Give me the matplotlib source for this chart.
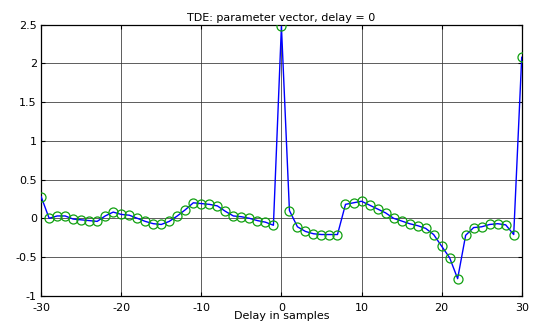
import numpy as np
import matplotlib
matplotlib.use("Agg")
import matplotlib.pyplot as plt

plt.rcParams['font.family'] = ['DejaVu Sans']
plt.rcParams['axes.unicode_minus'] = False

delays = list(range(-30, 31))
values = [
    0.28, 0.00, 0.03, 0.03, -0.01, -0.02, -0.03, -0.04, 0.03, 0.08,   # -30..-21
    0.05, 0.04, 0.00, -0.04, -0.07, -0.08, -0.04, 0.03, 0.11, 0.20,   # -20..-11
    0.19, 0.18, 0.16, 0.09, 0.03, 0.02, 0.00, -0.03, -0.05, -0.09,    # -10..-1
    2.48,                                                              # 0
    0.10, -0.11, -0.17, -0.20, -0.21, -0.21, -0.21, 0.18, 0.20, 0.22, # 1..10
    0.17, 0.12, 0.07, 0.00, -0.035, -0.07, -0.095, -0.13, -0.21, -0.36, # 11..20
    -0.51, -0.78, -0.22, -0.12, -0.11, -0.08, -0.07, -0.085, -0.21, 2.08, # 21..30
]
xticks = [-30, -20, -10, 0, 10, 20, 30]
yticks = [-1, -0.5, 0, 0.5, 1, 1.5, 2, 2.5]
ytick_labels = ['-1', '-0.5', '0', '0.5', '1', '1.5', '2', '2.5']
title = 'TDE: parameter vector, delay = 0'
xlabel = 'Delay in samples'

fig = plt.figure(figsize=(5.34, 3.26), dpi=100)
ax = fig.add_axes([0.077, 0.093, 0.900, 0.831])
ax.plot(delays, values, '-', color='blue', linewidth=1.0, zorder=3)
ax.plot(delays, values, 'o', markerfacecolor='none', markeredgecolor='#10a010',
        markersize=6.5, markeredgewidth=0.9, zorder=4)
ax.set_xlim(-30, 30)
ax.set_ylim(-1, 2.5)
ax.set_xticks(xticks)
ax.set_yticks(yticks)
ax.set_yticklabels(ytick_labels)
ax.grid(True, color='#333333', linewidth=0.7, linestyle='-', alpha=0.8)
ax.set_axisbelow(True)
ax.tick_params(direction='in', length=3, width=0.8, labelsize=8, top=True, right=True)
ax.tick_params(axis='x', pad=5)
ax.tick_params(axis='y', pad=3)
for s in ax.spines.values():
    s.set_linewidth(0.9)
ax.set_title(title, fontsize=8, pad=3)
ax.set_xlabel(xlabel, fontsize=8, labelpad=-1)
fig.savefig('out.png', dpi=100)
